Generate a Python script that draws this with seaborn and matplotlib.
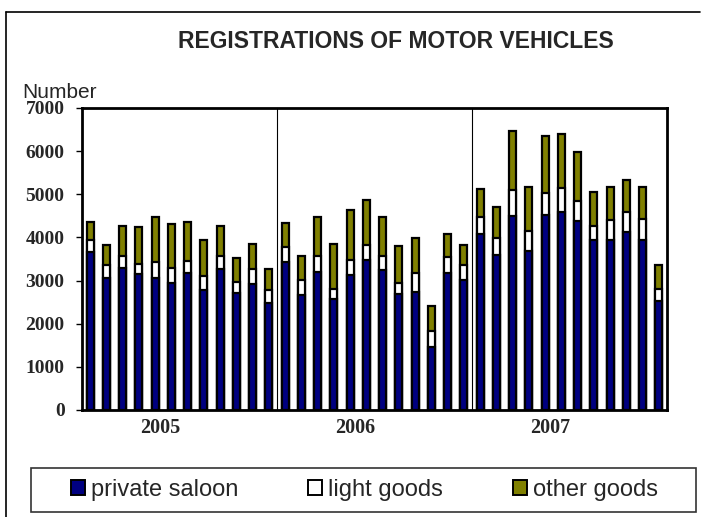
import numpy as np
import pandas as pd
import matplotlib
matplotlib.use("Agg")
import matplotlib.pyplot as plt
import matplotlib.patches as mpatches
import matplotlib.lines as mlines
import matplotlib.transforms as mtransforms
import seaborn as sns

years = ["2005", "2006", "2007"]
months = [f"{y}-{m:02d}" for y in years for m in range(1, 13)]
private_saloon = [3660, 3055, 3290, 3150, 3055, 2940, 3170, 2785, 3265, 2720, 2925, 2490,
                  3425, 2655, 3195, 2570, 3130, 3480, 3250, 2690, 2745, 1455, 3185, 3015,
                  4075, 3595, 4500, 3675, 4510, 4600, 4370, 3930, 3945, 4135, 3945, 2515]
light_goods = [290, 310, 270, 240, 365, 360, 285, 330, 310, 255, 340, 295,
               350, 360, 365, 240, 350, 335, 325, 265, 425, 365, 355, 350,
               410, 400, 605, 465, 520, 545, 465, 340, 450, 465, 480, 295]
other_goods = [400, 465, 695, 850, 1050, 1005, 900, 830, 700, 545, 580, 480,
               555, 555, 910, 1045, 1145, 1045, 900, 835, 810, 600, 540, 465,
               635, 705, 1355, 1020, 1330, 1260, 1145, 780, 765, 735, 745, 555]
yticks = [0, 1000, 2000, 3000, 4000, 5000, 6000, 7000]
series_names = ["private saloon", "light goods", "other goods"]
colors = ["#000080", "#FFFFFF", "#808000"]

df = pd.DataFrame({"month": months, "private": private_saloon,
                   "light": light_goods, "other": other_goods})
df["lvl1"] = df["private"]
df["lvl2"] = df["private"] + df["light"]
df["lvl3"] = df["lvl2"] + df["other"]

sns.set_theme(style="white")
W, H = 706, 517
fig = plt.figure(figsize=(W/100, H/100), dpi=100)
ax = fig.add_axes([82/W, 1-410/H, 585/W, 302/H])

for col, c in [("lvl3", colors[2]), ("lvl2", colors[1]), ("lvl1", colors[0])]:
    sns.barplot(data=df, x="month", y=col, order=months, color=c, ax=ax,
                width=0.42, edgecolor="black", linewidth=1.6, saturation=1)

ax.set_ylim(0, 7000)
ax.set_xlim(-0.5, 35.5)
ax.set_yticks(yticks)
ax.set_yticklabels([str(v) for v in yticks], fontfamily="Liberation Serif",
                   fontweight="bold", fontsize=14)
ax.set_xticks([])
ax.set_xlabel("")
ax.set_ylabel("")
ax.tick_params(axis="y", direction="out", length=4.5, width=1, color="black", pad=8, left=True)
for s in ax.spines.values():
    s.set_visible(True)
    s.set_color("black")
    s.set_linewidth(2)

for xd in [11.5, 23.5]:
    ax.axvline(xd, color="black", linewidth=0.8)

trans = mtransforms.blended_transform_factory(ax.transData, ax.transAxes)
for i, y in enumerate(years):
    ax.text(4.3 + 12*i, -0.058, y, transform=trans, ha="center", va="center",
            fontfamily="Liberation Serif", fontweight="bold", fontsize=14.5)

fig.text(396/W, 1-42/H, "REGISTRATIONS OF MOTOR VEHICLES", ha="center", va="center",
         fontfamily="Liberation Sans", fontweight="bold", fontsize=16.5)
fig.text(22/W, 1-93/H, "Number", ha="left", va="center",
         fontfamily="Liberation Sans", fontsize=15)

handles = [mpatches.Patch(facecolor=c, edgecolor="black", linewidth=1.4, label=n)
           for c, n in zip(colors, series_names)]
leg = fig.legend(handles=handles, loc="center", ncol=3,
                 bbox_to_anchor=(364.5/W, 1-490/H),
                 prop={"family": "Liberation Sans", "size": 17},
                 handlelength=0.6, handleheight=0.6, handletextpad=0.25,
                 columnspacing=2.95, frameon=False, borderpad=0)

box = mpatches.Rectangle((31/W, 1-512/H), 665/W, 44/H, transform=fig.transFigure,
                         fill=False, edgecolor="#333333", linewidth=1.2)
fig.patches.append(box)

fig.lines.append(mlines.Line2D([6/W, 6/W], [0, 1-12/H], transform=fig.transFigure,
                               color="black", linewidth=1.2))
fig.lines.append(mlines.Line2D([6/W, 700/W], [1-12/H, 1-12/H], transform=fig.transFigure,
                               color="black", linewidth=1.2))

fig.savefig("out.png", dpi=100, facecolor="white")
